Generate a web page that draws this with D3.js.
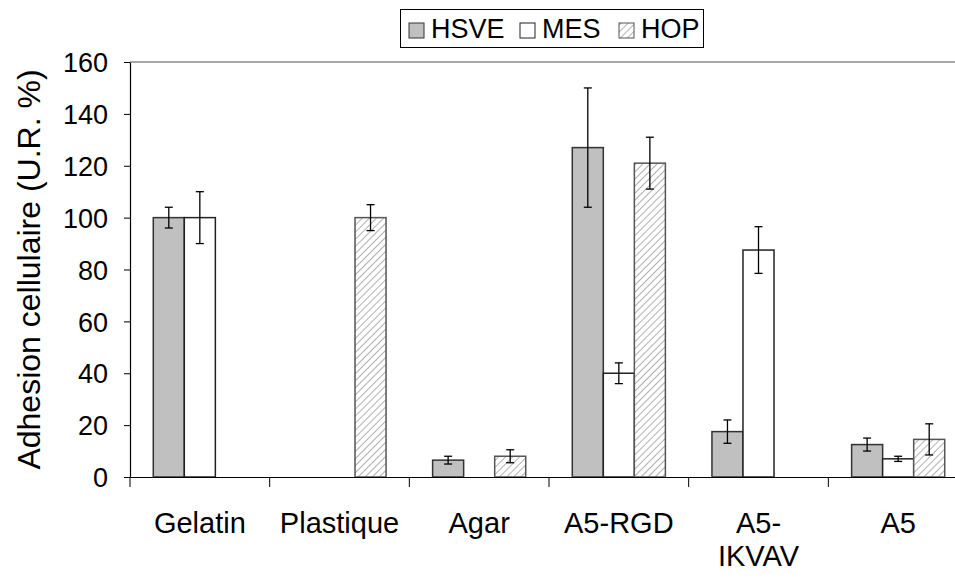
<!DOCTYPE html>
<html>
<head>
<meta charset="utf-8">
<script src="https://cdn.jsdelivr.net/npm/d3@7"></script>
<style>
  body { margin: 0; background: #fff; }
  text { font-family: "Liberation Sans", Arial, sans-serif; fill: #000; }
</style>
</head>
<body>
<div id="container"></div>
<script>
/* DATA */
const categories = ["Gelatin", "Plastique", "Agar", "A5-RGD", "A5-IKVAV", "A5"]
const series = ["HSVE", "MES", "HOP"]
// null = no bar
const hsve    = [100, null, 6.5, 127, 17.5, 12.5]
const hsveErr = [4, null, 1.5, 23, 4.5, 2.5]
const mes     = [100, null, null, 40, 87.5, 7]
const mesErr  = [10, null, null, 4, 9, 1]
const hop     = [null, 100, 8, 121, null, 14.5]
const hopErr  = [null, 5, 2.5, 10, null, 6]
const yTicks = [0, 20, 40, 60, 80, 100, 120, 140, 160]

/* CONSTANTS */
const width = 955, height = 578
const margin = { top: 62, bottom: 101, left: 130 }
const plotRight = 968   // plot runs past the right edge of the picture

const data = []
categories.forEach((c, i) => {
  const vals = [hsve[i], mes[i], hop[i]]
  const errs = [hsveErr[i], mesErr[i], hopErr[i]]
  series.forEach((s, j) => {
    if (vals[j] != null) data.push({ cat: c, series: s, value: vals[j], err: errs[j] })
  })
})

const svg = d3.select("#container")
  .append("svg")
  .attr("width", width)
  .attr("height", height)

const defs = svg.append("defs")
const pat = defs.append("pattern")
  .attr("id", "hatch")
  .attr("patternUnits", "userSpaceOnUse")
  .attr("width", 5)
  .attr("height", 5)
  .attr("patternTransform", "rotate(45)")
pat.append("rect").attr("width", 5).attr("height", 5).attr("fill", "#fff")
pat.append("line")
  .attr("x1", 0).attr("y1", 0).attr("x2", 0).attr("y2", 5)
  .attr("stroke", "#b0b0b0").attr("stroke-width", 2)

const fills = { HSVE: "#c0c0c0", MES: "#ffffff", HOP: "url(#hatch)" }
const strokes = { HSVE: "#333", MES: "#222", HOP: "#555" }

const xScale = d3.scaleBand()
  .domain(categories)
  .range([margin.left, plotRight])
  .padding(0)

const x1 = d3.scaleBand()
  .domain(series)
  .range([0, xScale.bandwidth()])
  .paddingInner(0)
  .paddingOuter(0.75)

const yScale = d3.scaleLinear()
  .domain([0, 160])
  .range([height - margin.bottom, margin.top])

// top border of plot area
svg.append("line")
  .attr("x1", margin.left).attr("x2", width)
  .attr("y1", yScale(160)).attr("y2", yScale(160))
  .attr("stroke", "#a8a8a8").attr("stroke-width", 1.8)

// bars
svg.selectAll("rect.bar")
  .data(data)
  .join("rect")
  .attr("class", "bar")
  .attr("x", d => xScale(d.cat) + x1(d.series))
  .attr("y", d => yScale(d.value))
  .attr("width", x1.bandwidth())
  .attr("height", d => yScale(0) - yScale(d.value))
  .attr("fill", d => fills[d.series])
  .attr("stroke", d => strokes[d.series])
  .attr("stroke-width", 1.5)

// error bars
const eb = svg.selectAll("g.err")
  .data(data)
  .join("g")
  .attr("class", "err")
  .attr("stroke", "#000")
  .attr("stroke-width", 1.3)
const cx = d => xScale(d.cat) + x1(d.series) + x1.bandwidth() / 2
eb.append("line")
  .attr("x1", cx).attr("x2", cx)
  .attr("y1", d => yScale(d.value + d.err))
  .attr("y2", d => yScale(d.value - d.err))
eb.append("line")
  .attr("x1", d => cx(d) - 4).attr("x2", d => cx(d) + 4)
  .attr("y1", d => yScale(d.value + d.err)).attr("y2", d => yScale(d.value + d.err))
eb.append("line")
  .attr("x1", d => cx(d) - 4).attr("x2", d => cx(d) + 4)
  .attr("y1", d => yScale(d.value - d.err)).attr("y2", d => yScale(d.value - d.err))

// y axis
const yAxis = svg.append("g")
  .attr("transform", `translate(${margin.left},0)`)
  .call(d3.axisLeft(yScale).tickValues(yTicks).tickSize(6).tickPadding(16).tickSizeOuter(0))
yAxis.select(".domain").attr("stroke", "#000").attr("stroke-width", 1.2)
yAxis.selectAll(".tick line").attr("stroke", "#000")
yAxis.selectAll(".tick text")
  .style("font-size", "27px")
  .attr("dy", "0.36em")

// x axis
const xAxis = svg.append("g")
  .attr("transform", `translate(0,${yScale(0)})`)
  .call(d3.axisBottom(xScale).tickSize(0).tickFormat(""))
xAxis.select(".domain").attr("stroke", "#000").attr("stroke-width", 1.2)
xAxis.selectAll(".tick").remove()

// boundary ticks between categories
svg.selectAll("line.xtick")
  .data(categories)
  .join("line")
  .attr("class", "xtick")
  .attr("x1", d => xScale(d)).attr("x2", d => xScale(d))
  .attr("y1", yScale(0)).attr("y2", yScale(0) + 10)
  .attr("stroke", "#000").attr("stroke-width", 1)

// category labels (wrap at hyphen like the original)
const labelLines = { "A5-IKVAV": ["A5-", "IKVAV"] }
svg.selectAll("text.xlab")
  .data(categories)
  .join("text")
  .attr("class", "xlab")
  .attr("text-anchor", "middle")
  .style("font-size", "29px")
  .each(function (d) {
    const lines = labelLines[d] || [d]
    d3.select(this).selectAll("tspan")
      .data(lines)
      .join("tspan")
      .attr("x", xScale(d) + xScale.bandwidth() / 2)
      .attr("y", (l, i) => 533 + i * 33)
      .text(l => l)
  })

// y title
svg.append("text")
  .attr("transform", `translate(40,${(yScale(0) + yScale(160)) / 2}) rotate(-90)`)
  .attr("text-anchor", "middle")
  .style("font-size", "32px")
  .text("Adhesion cellulaire (U.R. %)")

// legend
const legend = svg.append("g")
legend.append("rect")
  .attr("x", 400.5).attr("y", 9.5).attr("width", 303).attr("height", 38)
  .attr("fill", "#fff").attr("stroke", "#000").attr("stroke-width", 1)
const legendX = [409, 520, 619]
series.forEach((s, i) => {
  legend.append("rect")
    .attr("x", legendX[i]).attr("y", 23).attr("width", 15).attr("height", 15)
    .attr("fill", fills[s]).attr("stroke", strokes[s]).attr("stroke-width", 1)
  legend.append("text")
    .attr("x", legendX[i] + 22).attr("y", 38)
    .style("font-size", "27px")
    .text(s)
})
</script>
</body>
</html>
